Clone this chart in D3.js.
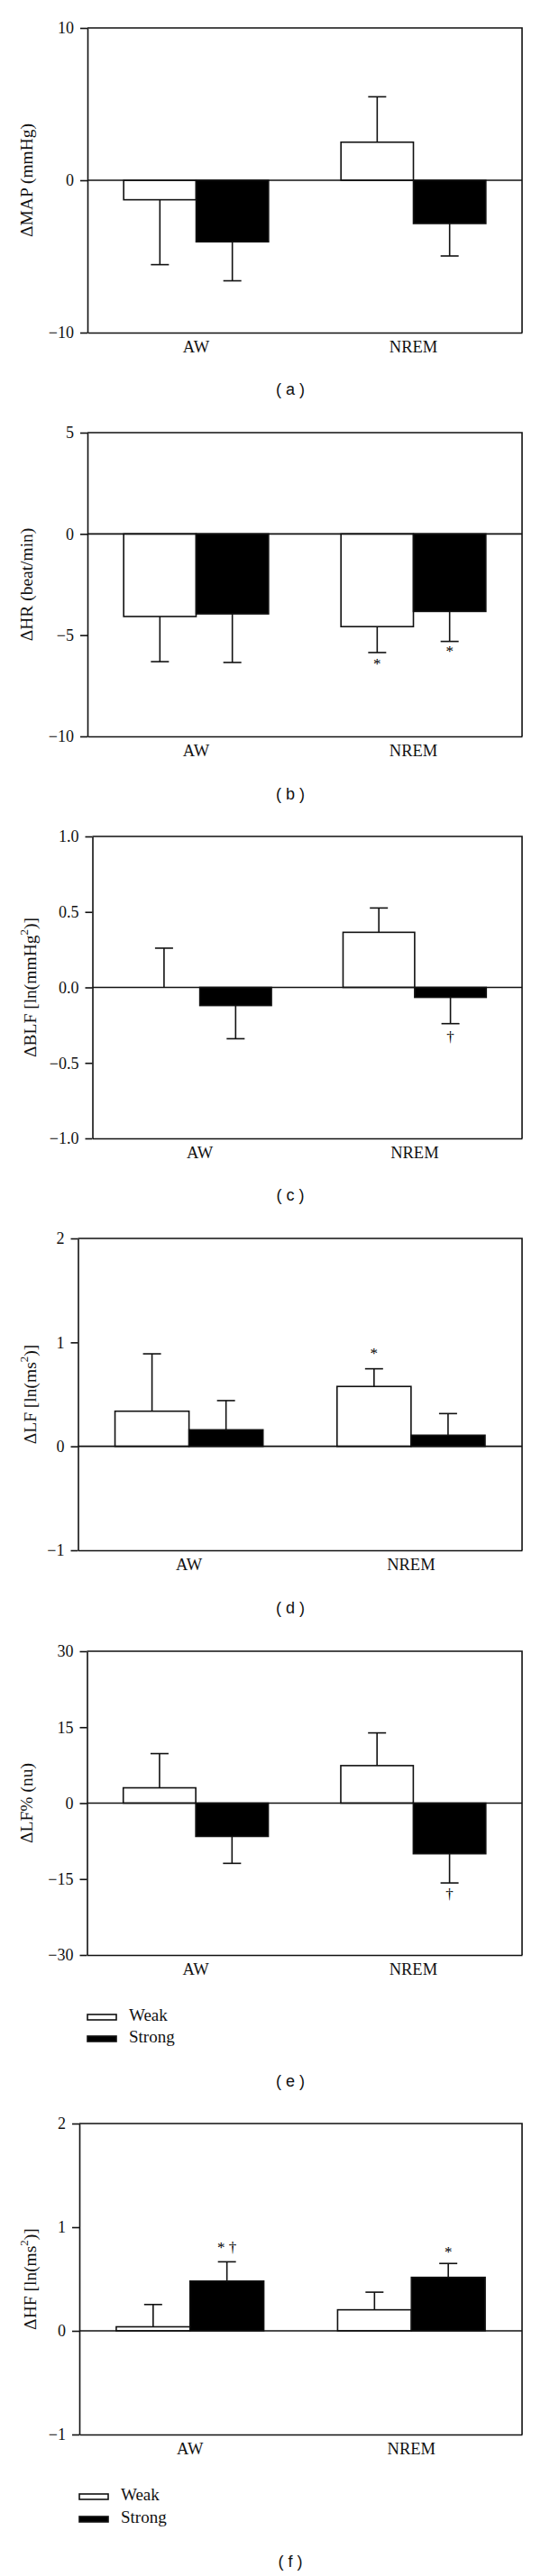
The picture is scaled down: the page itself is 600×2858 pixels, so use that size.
<!DOCTYPE html>
<html><head><meta charset="utf-8">
<script src="https://cdn.jsdelivr.net/npm/d3@7"></script>
<style>body{margin:0;background:#fff}</style>
</head><body>
<svg id="chart" width="600" height="2858"></svg>
<script>
// ---------- data ----------
const categories = ["AW", "NREM"];
const groups = ["Weak", "Strong"];

// (a) ΔMAP (mmHg)
const mapWeak = [-1.28, 2.5], mapWeakErr = [4.26, 2.98];
const mapStrong = [-4.04, -2.84], mapStrongErr = [2.56, 2.13];
const mapTicks = [-10, 0, 10];
const mapMarks = [];

// (b) ΔHR (beat/min)
const hrWeak = [-4.08, -4.58], hrWeakErr = [2.23, 1.28];
const hrStrong = [-3.95, -3.83], hrStrongErr = [2.4, 1.48];
const hrTicks = [-10, -5, 0, 5];
const hrMarks = [["NREM", "Weak", "*", -6.5], ["NREM", "Strong", "*", -5.86]];

// (c) ΔBLF [ln(mmHg²)]
const blfWeak = [0.0, 0.365], blfWeakErr = [0.26, 0.161];
const blfStrong = [-0.12, -0.066], blfStrongErr = [0.22, 0.174];
const blfTicks = [-1, -0.5, 0, 0.5, 1];
const blfMarks = [["NREM", "Strong", "†", -0.335]];

// (d) ΔLF [ln(ms²)]
const lfWeak = [0.338, 0.576], lfWeakErr = [0.552, 0.17];
const lfStrong = [0.159, 0.107], lfStrongErr = [0.281, 0.208];
const lfTicks = [-1, 0, 1, 2];
const lfMarks = [["NREM", "Weak", "*", 0.88]];

// (e) ΔLF% (nu)
const lfnuWeak = [3.02, 7.41], lfnuWeakErr = [6.76, 6.46];
const lfnuStrong = [-6.58, -10.0], lfnuStrongErr = [5.32, 5.77];
const lfnuTicks = [-30, -15, 0, 15, 30];
const lfnuMarks = [["NREM", "Strong", "†", -18.3]];

// (f) ΔHF [ln(ms²)]
const hfWeak = [0.039, 0.203], hfWeakErr = [0.215, 0.17];
const hfStrong = [0.48, 0.516], hfStrongErr = [0.186, 0.134];
const hfTicks = [-1, 0, 1, 2];
const hfMarks = [["AW", "Strong", "* †", 0.79], ["NREM", "Strong", "*", 0.746]];

// ---------- layout ----------
const RIGHT = 579;
const SERIF = "'Liberation Serif','Times New Roman',serif";
const SANS = "'Liberation Sans',Arial,sans-serif";

const panels = [
  {tag:"a", title:[["ΔMAP (mmHg)"]], weak:mapWeak, weakErr:mapWeakErr, strong:mapStrong, strongErr:mapStrongErr,
   ticks:mapTicks, fmt:d3.format("d"), marks:mapMarks, top:31, bottom:369, left:97, titleX:32, labelY:433},
  {tag:"b", title:[["ΔHR (beat/min)"]], weak:hrWeak, weakErr:hrWeakErr, strong:hrStrong, strongErr:hrStrongErr,
   ticks:hrTicks, fmt:d3.format("d"), marks:hrMarks, top:480, bottom:817, left:97, titleX:32, labelY:882},
  {tag:"c", title:[["ΔBLF [ln(mmHg"],["2",true],[")]"]], weak:blfWeak, weakErr:blfWeakErr, strong:blfStrong, strongErr:blfStrongErr,
   ticks:blfTicks, fmt:d3.format(".1f"), marks:blfMarks, top:928, bottom:1263, left:102.5, titleX:36, labelY:1327},
  {tag:"d", title:[["ΔLF [ln(ms"],["2",true],[")]"]], weak:lfWeak, weakErr:lfWeakErr, strong:lfStrong, strongErr:lfStrongErr,
   ticks:lfTicks, fmt:d3.format("d"), marks:lfMarks, top:1374, bottom:1720, left:86.5, titleX:36, labelY:1785},
  {tag:"e", title:[["ΔLF% (nu)"]], weak:lfnuWeak, weakErr:lfnuWeakErr, strong:lfnuStrong, strongErr:lfnuStrongErr,
   ticks:lfnuTicks, fmt:d3.format("d"), marks:lfnuMarks, top:1832, bottom:2169, left:96.5, titleX:32, labelY:2310,
   legend:{x:97, y:2238, gap:24}},
  {tag:"f", title:[["ΔHF [ln(ms"],["2",true],[")]"]], weak:hfWeak, weakErr:hfWeakErr, strong:hfStrong, strongErr:hfStrongErr,
   ticks:hfTicks, fmt:d3.format("d"), marks:hfMarks, top:2356, bottom:2701, left:88, titleX:36, labelY:2843,
   legend:{x:88, y:2770, gap:25}}
];

const svg = d3.select("#chart");
const SW = 1.6;
const INK = "#111";

panels.forEach(p => {
  const y = d3.scaleLinear().domain([p.ticks[0], p.ticks[p.ticks.length-1]]).range([p.bottom, p.top]);
  const x0 = d3.scaleBand().domain(categories).range([p.left, RIGHT]).paddingInner(1/3).paddingOuter(1/6);
  const x1 = d3.scaleBand().domain(groups).range([0, x0.bandwidth()]);
  const g = svg.append("g");

  const rows = [];
  categories.forEach((c, i) => {
    rows.push({cat:c, grp:"Weak", v:p.weak[i], e:p.weakErr[i]});
    rows.push({cat:c, grp:"Strong", v:p.strong[i], e:p.strongErr[i]});
  });

  // bars
  g.selectAll("rect.bar").data(rows).join("rect")
    .attr("x", d => x0(d.cat) + x1(d.grp))
    .attr("width", x1.bandwidth())
    .attr("y", d => y(Math.max(0, d.v)))
    .attr("height", d => Math.abs(y(d.v) - y(0)))
    .attr("fill", d => d.grp === "Weak" ? "#fff" : "#000")
    .attr("stroke", INK).attr("stroke-width", SW);

  // zero line
  g.append("line").attr("x1", p.left).attr("x2", RIGHT).attr("y1", y(0)).attr("y2", y(0))
    .attr("stroke", INK).attr("stroke-width", SW);

  // error bars
  const cx = d => x0(d.cat) + x1(d.grp) + x1.bandwidth()/2;
  const tipV = d => d.v >= 0 ? d.v + d.e : d.v - d.e;
  g.selectAll("line.err").data(rows).join("line")
    .attr("x1", cx).attr("x2", cx).attr("y1", d => y(d.v)).attr("y2", d => y(tipV(d)))
    .attr("stroke", INK).attr("stroke-width", SW);
  g.selectAll("line.cap").data(rows).join("line")
    .attr("x1", d => cx(d) - 10).attr("x2", d => cx(d) + 10)
    .attr("y1", d => y(tipV(d))).attr("y2", d => y(tipV(d)))
    .attr("stroke", INK).attr("stroke-width", SW);

  // significance marks
  g.selectAll("text.mark").data(p.marks).join("text")
    .attr("x", d => x0(d[0]) + x1(d[1]) + x1.bandwidth()/2)
    .attr("y", d => y(d[3]))
    .attr("text-anchor", "middle").attr("dominant-baseline", "middle")
    .attr("font-family", SERIF).attr("font-size", 17).attr("fill", "#000")
    .text(d => d[2]);

  // frame top/right
  g.append("path").attr("d", `M${p.left},${p.top}H${RIGHT}V${p.bottom}`)
    .attr("fill", "none").attr("stroke", INK).attr("stroke-width", SW);

  // y axis
  const ya = g.append("g").attr("transform", `translate(${p.left},0)`)
    .call(d3.axisLeft(y).tickValues(p.ticks).tickFormat(p.fmt).tickSize(8).tickSizeOuter(0).tickPadding(7));
  ya.selectAll("path,line").attr("stroke", INK).attr("stroke-width", SW);
  ya.selectAll("text").attr("font-family", SERIF).attr("font-size", 18).attr("fill", INK);

  // x axis
  const xa = g.append("g").attr("transform", `translate(0,${p.bottom})`)
    .call(d3.axisBottom(x0).tickSize(0).tickSizeOuter(0).tickPadding(9));
  xa.selectAll("path").attr("stroke", INK).attr("stroke-width", SW);
  xa.selectAll("text").attr("font-family", SERIF).attr("font-size", 18.5).attr("fill", INK);

  // y title
  const t = g.append("text")
    .attr("transform", `translate(${p.titleX},${(p.top + p.bottom)/2}) rotate(-90)`)
    .attr("text-anchor", "middle").attr("dominant-baseline", "middle")
    .attr("font-family", SERIF).attr("font-size", 19.5).attr("fill", INK);
  p.title.forEach((part, i) => {
    const ts = t.append("tspan").text(part[0]);
    if (part[1]) ts.attr("font-size", 13).attr("dy", -8);
    else if (i > 0) ts.attr("dy", 8);
  });

  // legend
  if (p.legend) {
    groups.forEach((gr, i) => {
      const ly = p.legend.y + i * p.legend.gap;
      g.append("rect").attr("x", p.legend.x).attr("y", ly - 3).attr("width", 32).attr("height", 6)
        .attr("fill", gr === "Weak" ? "#fff" : "#000").attr("stroke", INK).attr("stroke-width", SW);
      g.append("text").attr("x", p.legend.x + 46).attr("y", ly).attr("dominant-baseline", "middle")
        .attr("font-family", SERIF).attr("font-size", 19).attr("fill", INK).text(gr);
    });
  }

  // panel label
  g.append("text").attr("x", 322).attr("y", p.labelY)
    .attr("text-anchor", "middle").attr("dominant-baseline", "middle")
    .attr("font-family", SANS).attr("font-size", 18).attr("fill", INK)
    .text(`( ${p.tag} )`);
});
</script>
</body></html>
